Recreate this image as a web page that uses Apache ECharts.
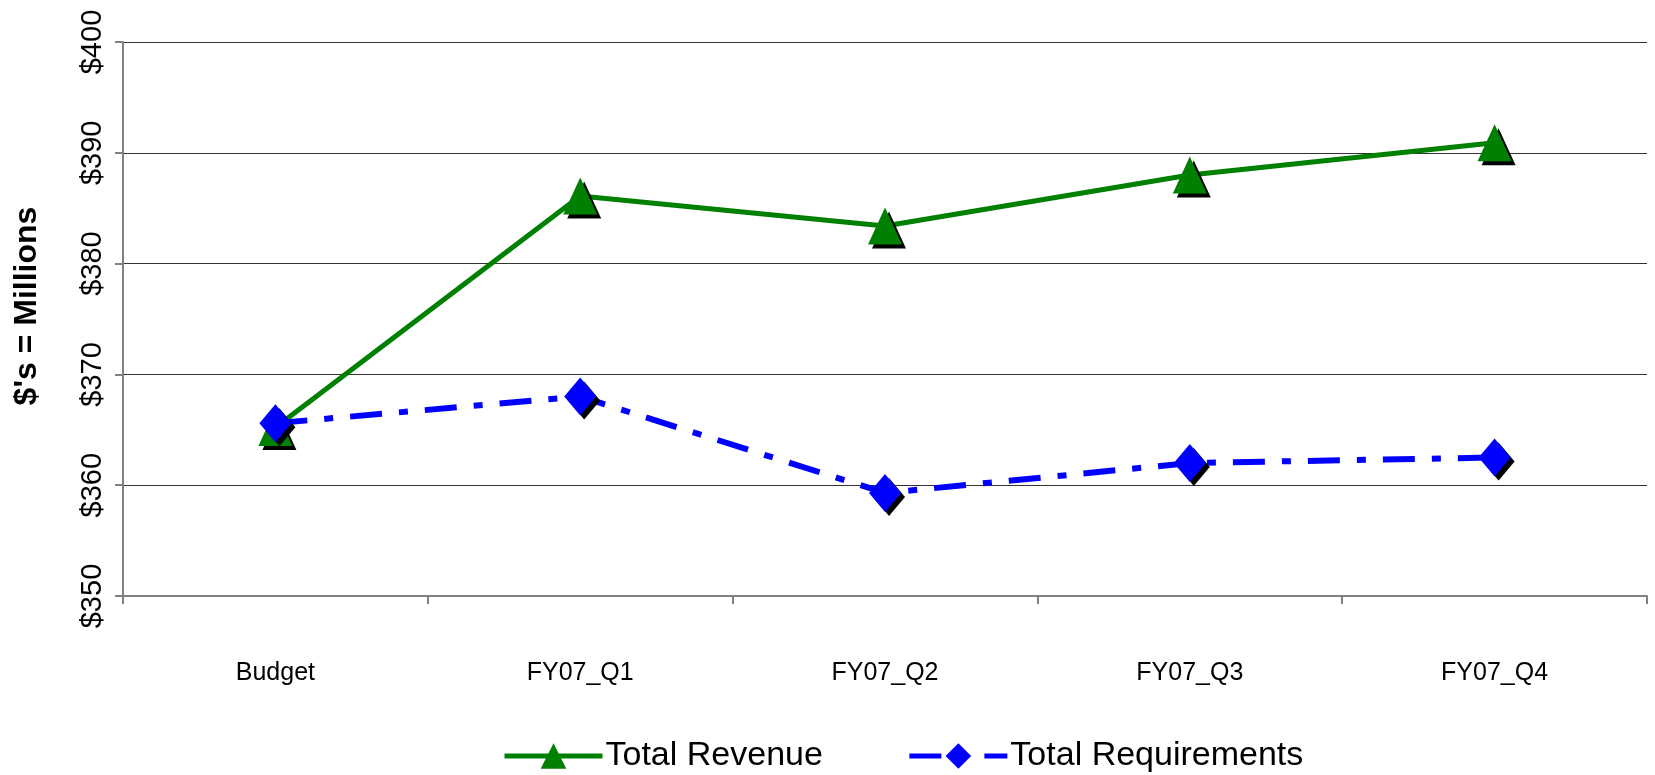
<!DOCTYPE html>
<html>
<head>
<meta charset="utf-8">
<script src="https://cdn.jsdelivr.net/npm/echarts@6/dist/echarts.min.js"></script>
<style>
  html, body { margin: 0; padding: 0; background: #fff; }
  #chart { width: 1655px; height: 775px; }
</style>
</head>
<body>
<div id="chart"></div>
<script>
  // 数据
  var categories = ['Budget', 'FY07_Q1', 'FY07_Q2', 'FY07_Q3', 'FY07_Q4'];
  var totalRevenue = [365.2, 386.1, 383.4, 388.0, 390.9];
  var totalRequirements = [365.6, 368.0, 359.3, 362.0, 362.5];
  var yTicks = { min: 350, max: 400, step: 10 };

  var font = '"Liberation Sans", Arial, sans-serif';

  var myChart = echarts.init(document.getElementById('chart'));
  var option = {
    backgroundColor: '#fff',
    animation: false,
    grid: {
      left: 123,
      right: 8,
      top: 42,
      bottom: 179,
      containLabel: false,
      outerBoundsMode: 'none'
    },
    legend: {
      data: ['Total Revenue', 'Total Requirements'],
      left: 497,
      top: 734,
      itemWidth: 98,
      itemHeight: 32,
      itemGap: 84,
      lineStyle: { width: 5 },
      textStyle: {
        color: '#000',
        fontFamily: font,
        fontSize: 34,
        padding: [0, 0, 0, -2]
      }
    },
    xAxis: {
      type: 'category',
      data: categories,
      boundaryGap: true,
      axisLine: {
        lineStyle: { color: '#808080', width: 2 }
      },
      axisTick: {
        show: true,
        alignWithLabel: false,
        length: 8,
        lineStyle: { color: '#808080', width: 2 }
      },
      axisLabel: {
        color: '#000',
        fontFamily: font,
        fontSize: 25,
        margin: 65
      },
      splitLine: { show: false }
    },
    yAxis: {
      type: 'value',
      min: yTicks.min,
      max: yTicks.max,
      interval: yTicks.step,
      name: "$'s = Millions",
      nameLocation: 'middle',
      nameGap: 80,
      nameRotate: 90,
      nameTextStyle: {
        color: '#000',
        fontFamily: font,
        fontWeight: 'bold',
        fontSize: 32,
        padding: [0, 0, 0, 26]
      },
      axisLine: {
        show: true,
        lineStyle: { color: '#808080', width: 2 }
      },
      axisTick: {
        show: true,
        length: 8,
        lineStyle: { color: '#808080', width: 2 }
      },
      axisLabel: {
        color: '#000',
        fontFamily: font,
        fontSize: 29,
        rotate: 90,
        margin: 16,
        formatter: function (v) { return '$' + v; }
      },
      splitLine: {
        lineStyle: { color: '#333', width: 1 }
      }
    },
    series: [
      {
        name: 'Total Revenue',
        type: 'line',
        data: totalRevenue,
        symbol: 'triangle',
        symbolSize: [34, 37],
        lineStyle: { color: '#008000', width: 5 },
        itemStyle: {
          color: '#008000',
          shadowColor: '#000',
          shadowOffsetX: 4,
          shadowOffsetY: 4,
          shadowBlur: 0
        }
      },
      {
        name: 'Total Requirements',
        type: 'line',
        data: totalRequirements,
        symbol: 'diamond',
        symbolSize: [32, 38],
        lineStyle: {
          color: '#0000ff',
          width: 6,
          type: [32, 17, 9, 17],
          cap: 'butt'
        },
        itemStyle: {
          color: '#0000ff',
          shadowColor: '#000',
          shadowOffsetX: 4,
          shadowOffsetY: 4,
          shadowBlur: 0
        }
      }
    ]
  };
  myChart.setOption(option);
</script>
</body>
</html>
